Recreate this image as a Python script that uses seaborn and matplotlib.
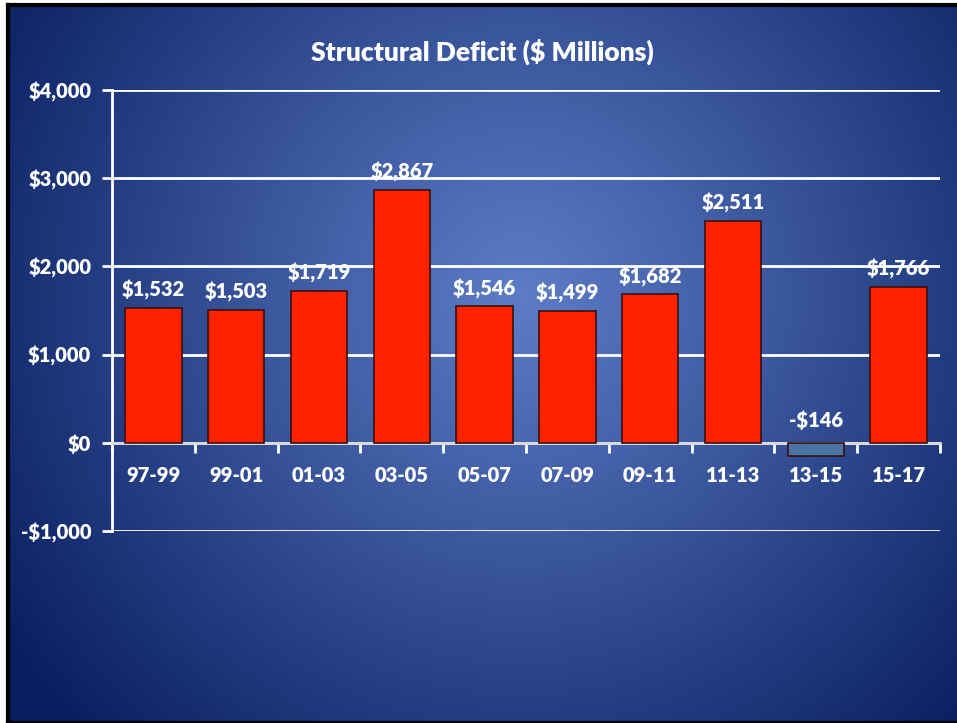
import numpy as np
import pandas as pd
import matplotlib
matplotlib.use("Agg")
import matplotlib.pyplot as plt
import seaborn as sns

# chart data
periods = ["97-99", "99-01", "01-03", "03-05", "05-07", "07-09", "09-11", "11-13", "13-15", "15-17"]
deficit = [1532, 1503, 1719, 2867, 1546, 1499, 1682, 2511, -146, 1766]
y_ticks = [-1000, 0, 1000, 2000, 3000, 4000]

df = pd.DataFrame({"Period": periods, "Deficit": deficit})

sns.set_theme(style="white")
plt.rcParams["font.family"] = ["Lato", "DejaVu Sans"]
WT = "heavy"

fig = plt.figure(figsize=(9.57, 7.23), dpi=100)
fig.patch.set_facecolor("white")

# background panel with radial gradient
bg = fig.add_axes([8 / 957, 0, 1 - 8 / 957, 1 - 5 / 723])
h, w = 718, 949
yy, xx = np.mgrid[0:h, 0:w]
cx, cy = 512, 290
d = np.sqrt((xx - cx) ** 2 + (yy - cy) ** 2)
t = np.clip(d / 620, 0, 1) ** 1.05
inner = np.array([92, 124, 198]) / 255
outer = np.array([8, 30, 96]) / 255
img = inner[None, None, :] * (1 - t[..., None]) + outer[None, None, :] * t[..., None]
bg.imshow(img, aspect="auto", extent=[0, 1, 0, 1], zorder=0)
bg.set_xticks([])
bg.set_yticks([])
for s in bg.spines.values():
    s.set_color("black")
    s.set_linewidth(3)
bg.spines["right"].set_visible(False)

ax = fig.add_axes([112 / 957, 1 - 531 / 723, (940 - 112) / 957, (531 - 90) / 723])
ax.patch.set_alpha(0)

colors = ["#ff2200" if v >= 0 else "#4a74a4" for v in deficit]
sns.barplot(data=df, x="Period", y="Deficit", hue="Period", palette=colors,
            legend=False, width=0.68, ax=ax, edgecolor="#3a1010", linewidth=1.2,
            saturation=1, zorder=3)

ax.set_ylim(-1000, 4000)
ax.set_xlim(-0.5, len(periods) - 0.5)
ax.set_yticks(y_ticks)
ax.set_yticklabels([f"-${abs(v):,}" if v < 0 else f"${v:,}" for v in y_ticks],
                   color="white", fontsize=14.5, fontweight=WT)
ax.yaxis.grid(True, color="white", linewidth=2)
ax.set_axisbelow(True)

# x axis drawn at zero with ticks between categories
ax.spines["bottom"].set_position(("data", 0))
ax.spines["bottom"].set_color("#d8d8d8")
ax.spines["bottom"].set_linewidth(2)
ax.set_xticks(np.arange(len(periods) + 1) - 0.5)
ax.set_xticklabels([])
ax.tick_params(axis="x", direction="out", length=7, width=2, color="white", bottom=True)
ax.tick_params(axis="y", direction="out", length=7, width=2, color="white", left=True, pad=8)
ax.spines["left"].set_color("white")
ax.spines["left"].set_linewidth(2)
ax.spines["top"].set_visible(False)
ax.spines["right"].set_visible(False)
ax.set_xlabel("")
ax.set_ylabel("")

for i, p in enumerate(periods):
    ax.text(i, -370, p, ha="center", va="center", color="white",
            fontsize=14.5, fontweight=WT)

for i, v in enumerate(deficit):
    lab = f"-${abs(v):,}" if v < 0 else f"${v:,}"
    if v >= 0:
        ax.text(i, v + 90, lab, ha="center", va="bottom", color="white",
                fontsize=14.5, fontweight=WT, zorder=5)
    else:
        ax.text(i, 260, lab, ha="center", va="center", color="white",
                fontsize=14.5, fontweight=WT, zorder=5)

fig.text(0.504, 1 - 52 / 723, "Structural Deficit ($ Millions)", ha="center", va="center",
         color="white", fontsize=19, fontweight=WT)

fig.savefig("out.png", dpi=100)
